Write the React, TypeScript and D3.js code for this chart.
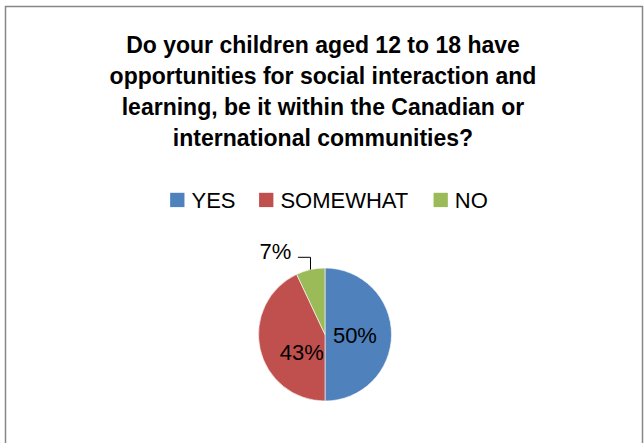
import React from "react";
import * as d3 from "d3";

const categories = ["YES", "SOMEWHAT", "NO"];
const values = [50, 43, 7];
const colors = ["#4F81BD", "#C0504D", "#9BBB59"];
const titleLines = [
  "Do your children aged 12 to 18 have",
  "opportunities for social interaction and",
  "learning, be it within the Canadian or",
  "international communities?",
];

const W = 644;
const H = 443;
const FONT = "'Liberation Sans', Arial, sans-serif";

export default function App() {
  const cx = 325;
  const cy = 334.5;
  const r = 66.5;
  const total = d3.sum(values);
  const pie = d3.pie<number>().sort(null).value((d) => d);
  const arcs = pie(values);
  const arc = d3.arc<d3.PieArcDatum<number>>().innerRadius(0).outerRadius(r);
  const labelArc = d3.arc<d3.PieArcDatum<number>>().innerRadius(r * 0.9).outerRadius(0);
  const edgeArc = d3.arc<d3.PieArcDatum<number>>().innerRadius(r).outerRadius(r);

  // legend layout
  const legendFont = 22;
  const sq = 14.3;
  const gapSqText = 7;
  const gapItems = 23.6;
  const measure = (t: string) => {
    const wmap: Record<string, number> = { Y: 0.667, E: 0.667, S: 0.667, O: 0.778, M: 0.833, W: 0.944, H: 0.722, A: 0.667, T: 0.611, N: 0.722 };
    return t.split("").reduce((a, c) => a + (wmap[c] ?? 0.6), 0) * legendFont;
  };
  const itemWidths = categories.map((c) => sq + gapSqText + measure(c));
  const legendTotal = d3.sum(itemWidths) + gapItems * (categories.length - 1);
  let lx = 329 - legendTotal / 2;
  const legendItems = categories.map((c, i) => {
    const x = lx;
    lx += itemWidths[i] + gapItems;
    return { c, x, color: colors[i] };
  });

  // Excel "best fit" places the larger inside label slightly lower/right
  const labelNudge = (i: number): [number, number] => (i === 1 ? [6, 11] : [0, 0]);

  return (
    <svg
      width={W}
      height={H}
      style={{ position: "absolute", left: 0, top: 0, background: "#fff" }}
    >
      <rect x={5.5} y={6.5} width={637} height={H + 20} fill="#fff" stroke="#868686" strokeWidth={1.5} />
      <g fontFamily={FONT} fontWeight="bold" fontSize={23} fill="#000" textAnchor="middle">
        {titleLines.map((t, i) => (
          <text key={i} x={323} y={52.5 + i * 31}>
            {t}
          </text>
        ))}
      </g>
      <g fontFamily={FONT} fontSize={legendFont} fill="#000">
        {legendItems.map((it) => (
          <g key={it.c}>
            <rect x={it.x} y={192.8} width={sq} height={sq} fill={it.color} />
            <text x={it.x + sq + gapSqText} y={207.7}>
              {it.c}
            </text>
          </g>
        ))}
      </g>
      <g transform={`translate(${cx},${cy})`}>
        {arcs.map((a, i) => (
          <path key={i} d={arc(a) || ""} fill={colors[i]} stroke="#fff" strokeWidth={0.6} />
        ))}
        {arcs.map((a, i) => {
          const pct = Math.round((values[i] / total) * 100) + "%";
          if (values[i] / total < 0.1) {
            const [px, py] = edgeArc.centroid(a);
            const ey = py - 12.3;
            const ex = px - 12.6;
            return (
              <g key={"l" + i}>
                <polyline
                  points={`${px},${py} ${px},${ey} ${ex},${ey}`}
                  fill="none"
                  stroke="#000"
                  strokeWidth={1}
                />
                <text x={ex - 6.5} y={py - 10.3} textAnchor="end" fontFamily={FONT} fontSize={22} fill="#000">
                  {pct}
                </text>
              </g>
            );
          }
          const [lxp, lyp] = labelArc.centroid(a);
          const [nx, ny] = labelNudge(i);
          return (
            <text
              key={"l" + i}
              x={lxp + nx}
              y={lyp + 8 + ny}
              textAnchor="middle"
              fontFamily={FONT}
              fontSize={22}
              fill="#000"
            >
              {pct}
            </text>
          );
        })}
      </g>
    </svg>
  );
}
